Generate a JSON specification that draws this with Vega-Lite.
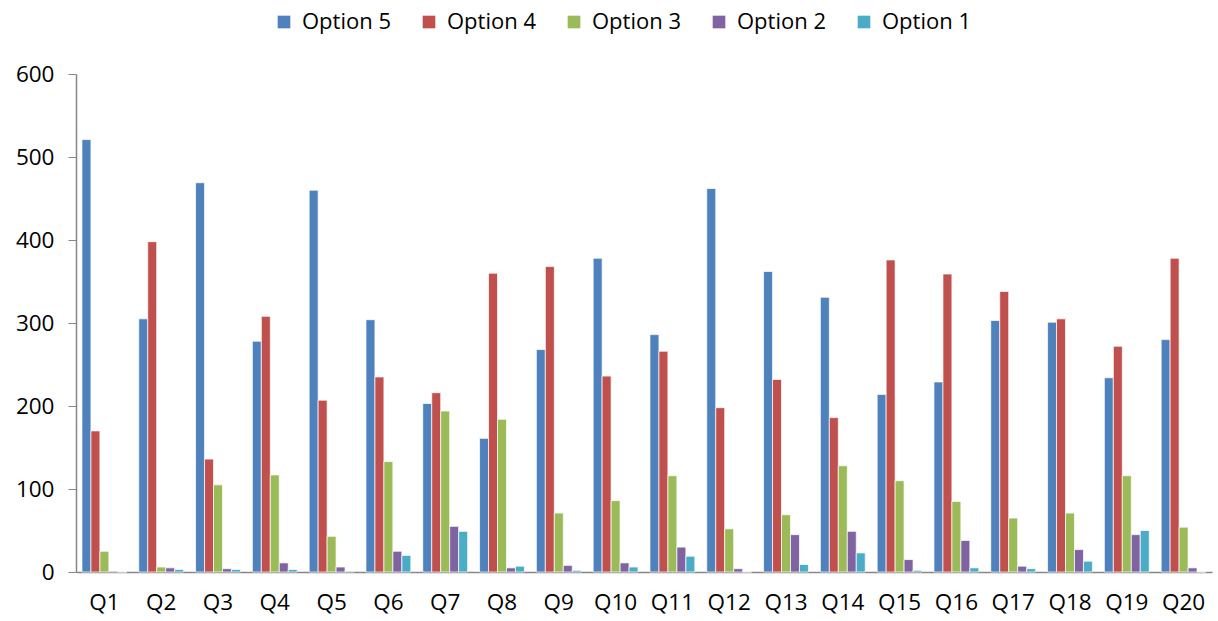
{
  "$schema": "https://vega.github.io/schema/vega-lite/v6.json",
  "width": 1136,
  "height": 498,
  "autosize": "none",
  "padding": {"left": 76, "top": 74, "right": 6, "bottom": 49},
  "background": "white",
  "config": {
    "view": {"stroke": null},
    "font": "Open Sans"
  },
  "data": {
    "values": [
      {"q": "Q1", "option": "Option 5", "value": 521}, {"q": "Q1", "option": "Option 4", "value": 170}, {"q": "Q1", "option": "Option 3", "value": 25}, {"q": "Q1", "option": "Option 2", "value": 1}, {"q": "Q1", "option": "Option 1", "value": 0},
      {"q": "Q2", "option": "Option 5", "value": 305}, {"q": "Q2", "option": "Option 4", "value": 398}, {"q": "Q2", "option": "Option 3", "value": 6}, {"q": "Q2", "option": "Option 2", "value": 5}, {"q": "Q2", "option": "Option 1", "value": 3},
      {"q": "Q3", "option": "Option 5", "value": 469}, {"q": "Q3", "option": "Option 4", "value": 136}, {"q": "Q3", "option": "Option 3", "value": 105}, {"q": "Q3", "option": "Option 2", "value": 4}, {"q": "Q3", "option": "Option 1", "value": 3},
      {"q": "Q4", "option": "Option 5", "value": 278}, {"q": "Q4", "option": "Option 4", "value": 308}, {"q": "Q4", "option": "Option 3", "value": 117}, {"q": "Q4", "option": "Option 2", "value": 11}, {"q": "Q4", "option": "Option 1", "value": 3},
      {"q": "Q5", "option": "Option 5", "value": 460}, {"q": "Q5", "option": "Option 4", "value": 207}, {"q": "Q5", "option": "Option 3", "value": 43}, {"q": "Q5", "option": "Option 2", "value": 6}, {"q": "Q5", "option": "Option 1", "value": 1},
      {"q": "Q6", "option": "Option 5", "value": 304}, {"q": "Q6", "option": "Option 4", "value": 235}, {"q": "Q6", "option": "Option 3", "value": 133}, {"q": "Q6", "option": "Option 2", "value": 25}, {"q": "Q6", "option": "Option 1", "value": 20},
      {"q": "Q7", "option": "Option 5", "value": 203}, {"q": "Q7", "option": "Option 4", "value": 216}, {"q": "Q7", "option": "Option 3", "value": 194}, {"q": "Q7", "option": "Option 2", "value": 55}, {"q": "Q7", "option": "Option 1", "value": 49},
      {"q": "Q8", "option": "Option 5", "value": 161}, {"q": "Q8", "option": "Option 4", "value": 360}, {"q": "Q8", "option": "Option 3", "value": 184}, {"q": "Q8", "option": "Option 2", "value": 5}, {"q": "Q8", "option": "Option 1", "value": 7},
      {"q": "Q9", "option": "Option 5", "value": 268}, {"q": "Q9", "option": "Option 4", "value": 368}, {"q": "Q9", "option": "Option 3", "value": 71}, {"q": "Q9", "option": "Option 2", "value": 8}, {"q": "Q9", "option": "Option 1", "value": 2},
      {"q": "Q10", "option": "Option 5", "value": 378}, {"q": "Q10", "option": "Option 4", "value": 236}, {"q": "Q10", "option": "Option 3", "value": 86}, {"q": "Q10", "option": "Option 2", "value": 11}, {"q": "Q10", "option": "Option 1", "value": 6},
      {"q": "Q11", "option": "Option 5", "value": 286}, {"q": "Q11", "option": "Option 4", "value": 266}, {"q": "Q11", "option": "Option 3", "value": 116}, {"q": "Q11", "option": "Option 2", "value": 30}, {"q": "Q11", "option": "Option 1", "value": 19},
      {"q": "Q12", "option": "Option 5", "value": 462}, {"q": "Q12", "option": "Option 4", "value": 198}, {"q": "Q12", "option": "Option 3", "value": 52}, {"q": "Q12", "option": "Option 2", "value": 4}, {"q": "Q12", "option": "Option 1", "value": 0},
      {"q": "Q13", "option": "Option 5", "value": 362}, {"q": "Q13", "option": "Option 4", "value": 232}, {"q": "Q13", "option": "Option 3", "value": 69}, {"q": "Q13", "option": "Option 2", "value": 45}, {"q": "Q13", "option": "Option 1", "value": 9},
      {"q": "Q14", "option": "Option 5", "value": 331}, {"q": "Q14", "option": "Option 4", "value": 186}, {"q": "Q14", "option": "Option 3", "value": 128}, {"q": "Q14", "option": "Option 2", "value": 49}, {"q": "Q14", "option": "Option 1", "value": 23},
      {"q": "Q15", "option": "Option 5", "value": 214}, {"q": "Q15", "option": "Option 4", "value": 376}, {"q": "Q15", "option": "Option 3", "value": 110}, {"q": "Q15", "option": "Option 2", "value": 15}, {"q": "Q15", "option": "Option 1", "value": 2},
      {"q": "Q16", "option": "Option 5", "value": 229}, {"q": "Q16", "option": "Option 4", "value": 359}, {"q": "Q16", "option": "Option 3", "value": 85}, {"q": "Q16", "option": "Option 2", "value": 38}, {"q": "Q16", "option": "Option 1", "value": 5},
      {"q": "Q17", "option": "Option 5", "value": 303}, {"q": "Q17", "option": "Option 4", "value": 338}, {"q": "Q17", "option": "Option 3", "value": 65}, {"q": "Q17", "option": "Option 2", "value": 7}, {"q": "Q17", "option": "Option 1", "value": 4},
      {"q": "Q18", "option": "Option 5", "value": 301}, {"q": "Q18", "option": "Option 4", "value": 305}, {"q": "Q18", "option": "Option 3", "value": 71}, {"q": "Q18", "option": "Option 2", "value": 27}, {"q": "Q18", "option": "Option 1", "value": 13},
      {"q": "Q19", "option": "Option 5", "value": 234}, {"q": "Q19", "option": "Option 4", "value": 272}, {"q": "Q19", "option": "Option 3", "value": 116}, {"q": "Q19", "option": "Option 2", "value": 45}, {"q": "Q19", "option": "Option 1", "value": 50},
      {"q": "Q20", "option": "Option 5", "value": 280}, {"q": "Q20", "option": "Option 4", "value": 378}, {"q": "Q20", "option": "Option 3", "value": 54}, {"q": "Q20", "option": "Option 2", "value": 5}, {"q": "Q20", "option": "Option 1", "value": 0}
    ]
  },
  "mark": {"type": "bar", "stroke": "white", "strokeWidth": 0.8, "strokeOpacity": 0.9},
  "encoding": {
    "x": {
      "field": "q",
      "type": "nominal",
      "sort": null,
      "scale": {"paddingInner": 0.21, "paddingOuter": 0.105},
      "axis": {
        "title": null,
        "labelAngle": 0,
        "labelFontSize": 22.5,
        "labelColor": "black",
        "labelPadding": 19,
        "ticks": false,
        "domainColor": "#868686",
        "domainWidth": 1.5
      }
    },
    "xOffset": {
      "field": "option",
      "type": "nominal",
      "sort": ["Option 5", "Option 4", "Option 3", "Option 2", "Option 1"],
      "scale": {"paddingInner": 0, "paddingOuter": 0}
    },
    "y": {
      "field": "value",
      "type": "quantitative",
      "scale": {"domain": [0, 600], "nice": false},
      "axis": {
        "title": null,
        "values": [0, 100, 200, 300, 400, 500, 600],
        "grid": false,
        "labelFontSize": 22.5,
        "labelColor": "black",
        "labelPadding": 14,
        "tickSize": 8,
        "tickColor": "#868686",
        "domainColor": "#868686",
        "domainWidth": 1.5
      }
    },
    "color": {
      "field": "option",
      "type": "nominal",
      "scale": {
        "domain": ["Option 5", "Option 4", "Option 3", "Option 2", "Option 1"],
        "range": ["#4F81BD", "#C0504D", "#9BBB59", "#8064A2", "#4BACC6"]
      },
      "legend": {
        "title": null,
        "orient": "none",
        "direction": "horizontal",
        "legendX": 197,
        "legendY": -63,
        "padding": 0,
        "columns": 5,
        "gridAlign": "all",
        "columnPadding": 27,
        "symbolType": "square",
        "symbolSize": 160,
        "symbolStrokeWidth": 0,
        "labelFontSize": 22,
        "labelColor": "black",
        "labelOffset": 7,
        "labelLimit": 200
      }
    }
  }
}
